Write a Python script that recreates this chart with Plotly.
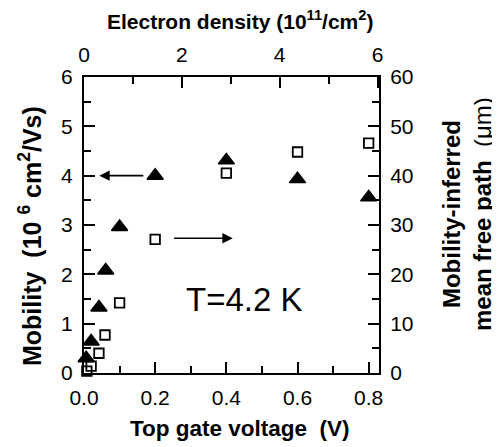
import plotly.graph_objects as go

# Data
voltage_tri = [0.006, 0.02, 0.042, 0.061, 0.1, 0.2, 0.4, 0.6, 0.8]
mobility = [0.30, 0.64, 1.33, 2.08, 2.96, 4.0, 4.31, 3.93, 3.56]
voltage_sq = [0.008, 0.02, 0.042, 0.059, 0.1, 0.2, 0.4, 0.6, 0.8]
mean_free_path = [0.4, 1.4, 4.0, 7.7, 14.2, 27.1, 40.5, 44.8, 46.6]

FONT = "Liberation Sans, Arial, sans-serif"
BLACK = "black"

# reference plot-area pixel box (page coordinates)
PX0, PX1, PY0, PY1 = 84, 379, 77, 373
OFF = 8  # default body margin of the html page


def px(xp):
    return (xp - PX0) / (PX1 - PX0)


def py(yp):
    return (PY1 - yp) / (PY1 - PY0)


fig = go.Figure()
fig.add_trace(go.Scatter(
    x=voltage_tri, y=mobility, mode="markers", xaxis="x", yaxis="y",
    marker=dict(symbol="triangle-up", size=14, color=BLACK,
                line=dict(color=BLACK, width=1.5)),
    cliponaxis=False, showlegend=False))
fig.add_trace(go.Scatter(
    x=voltage_sq, y=mean_free_path, mode="markers", xaxis="x", yaxis="y2",
    marker=dict(symbol="square-open", size=9.5, color=BLACK,
                line=dict(color=BLACK, width=1.8)),
    cliponaxis=False, showlegend=False))
# empty trace so that the top (electron density) axis is drawn
fig.add_trace(go.Scatter(x=[], y=[], xaxis="x2", yaxis="y", showlegend=False,
                         hoverinfo="skip"))

axis_common = dict(showgrid=False, zeroline=False, showline=True,
                   linecolor=BLACK, linewidth=2, ticks="inside",
                   ticklen=11, tickwidth=2, tickcolor=BLACK,
                   tickfont=dict(family=FONT, size=21, color=BLACK))


def minor(d):
    return dict(dtick=d, ticklen=7, tickwidth=2, tickcolor=BLACK, ticks="inside")


W, H = 500 - OFF, 447 - OFF
L = PX0 - OFF
T = PY0 - OFF
R = W - L - (PX1 - PX0)
B = H - T - (PY1 - PY0)

fig.update_layout(
    width=W, height=H,
    margin=dict(l=L, r=R, t=T, b=B, pad=0),
    paper_bgcolor="white", plot_bgcolor="white",
    xaxis=dict(range=[0, 0.829], tick0=0, dtick=0.2, tickformat=".1f",
               minor=minor(0.1), ticklabelstandoff=5, **axis_common),
    xaxis2=dict(range=[0, 6.03], tick0=0, dtick=2, overlaying="x", side="top",
                anchor="y", minor=minor(1), ticklabelstandoff=5, **axis_common),
    yaxis=dict(range=[0, 6], tick0=0, dtick=1, minor=minor(0.5),
               ticklabelstandoff=5, **axis_common),
    yaxis2=dict(range=[0, 60], tick0=0, dtick=10, overlaying="y", side="right",
                anchor="x", minor=minor(5), ticklabelstandoff=5, **axis_common),
)

# Arrows
fig.add_annotation(x=0.043, y=4.0, ax=0.171, ay=4.0, xref="x", yref="y",
                   axref="x", ayref="y", text="", showarrow=True,
                   arrowhead=2, arrowsize=1.3, arrowwidth=1.6, arrowcolor=BLACK)
fig.add_annotation(x=0.418, y=2.73, ax=0.249, ay=2.73, xref="x", yref="y",
                   axref="x", ayref="y", text="", showarrow=True,
                   arrowhead=2, arrowsize=1.3, arrowwidth=1.6, arrowcolor=BLACK)

# In-plot label
fig.add_annotation(x=0.45, y=1.5, xref="x", yref="y", text="T=4.2 K",
                   showarrow=False, font=dict(family=FONT, size=33, color=BLACK))

# Axis titles
fig.add_annotation(x=px(240), y=py(428), xref="paper", yref="paper",
                   text="<b>Top gate voltage  (V)</b>", showarrow=False,
                   xanchor="center", yanchor="middle",
                   font=dict(family=FONT, size=22.5, color=BLACK))
fig.add_annotation(x=px(240), y=py(20), xref="paper", yref="paper",
                   text="<b>Electron density (10<sup>11</sup>/cm<sup>2</sup>)</b>",
                   showarrow=False, xanchor="center", yanchor="middle",
                   font=dict(family=FONT, size=21, color=BLACK))
fig.add_annotation(x=px(30), y=py(236), xref="paper", yref="paper",
                   text="<b>Mobility  (10 <sup>6</sup> cm<sup>2</sup>/Vs)</b>",
                   showarrow=False, textangle=-90, xanchor="center", yanchor="middle",
                   font=dict(family=FONT, size=25, color=BLACK))
fig.add_annotation(x=px(467), y=py(214), xref="paper", yref="paper",
                   text="<b>Mobility-inferred</b><br><b>mean free path</b>  (μm)",
                   showarrow=False, textangle=-90, xanchor="center", yanchor="middle",
                   font=dict(family=FONT, size=24, color=BLACK))

fig.write_html("out.html")
